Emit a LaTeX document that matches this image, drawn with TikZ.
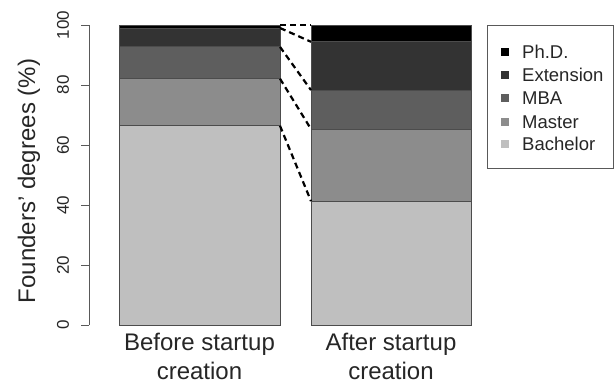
\documentclass[tikz,border=0pt]{standalone}
\usepackage{fontspec}
\setmainfont{Liberation Sans}
\usetikzlibrary{calc}

\definecolor{bachelorgray}{gray}{0.75}
\definecolor{mastergray}{gray}{0.55}
\definecolor{mbagray}{gray}{0.37}
\definecolor{extgray}{gray}{0.2}
\definecolor{phdgray}{gray}{0}

\tikzset{
  axisline/.style={draw=black!65, line width=0.9pt},
  barseg/.style={draw=black!70, line width=0.8pt},
  shiftline/.style={draw=black, line width=2.2pt, dash pattern=on 6pt off 4pt},
  ticklabel/.style={text=black!85, font=\fontsize{17}{20}\selectfont, inner sep=0pt},
  biglabel/.style={text=black!85, font=\fontsize{24}{29}\selectfont, inner sep=0pt, align=center},
  legendtext/.style={text=black!85, font=\fontsize{18.5}{22}\selectfont, anchor=west, inner sep=0pt},
}

\begin{document}
\begin{tikzpicture}[x=1pt,y=1pt]
		\useasboundingbox (0,0) rectangle (616,383);
		
		%%%%% AXIS %%%%%
		\draw[axisline] (89,58) -- (89,358);
		\foreach \v in {0,20,...,100} {
			\draw[axisline] (89,{58+3*\v}) -- (81,{58+3*\v});
			\node[ticklabel, rotate=90] (tick-\v) at (63,{58+3*\v}) {\v};
		}
		\node[biglabel, rotate=90] (ylab) at (29,202) {Founders' degrees (\%)};
		
		%%%%% BARS %%%%%
		% before startup creation
		\foreach \lo/\hi/\col [count=\i] in {0/66.4/bachelorgray, 66.4/82.1/mastergray, 82.1/92.7/mbagray, 92.7/99/extgray, 99/100/phdgray} {
			\draw[barseg, fill=\col] (119,{58+3*\lo}) rectangle (280,{58+3*\hi});
			\coordinate (before-\i) at (280,{58+3*\hi});
		}
		% after startup creation
		\foreach \lo/\hi/\col [count=\i] in {0/41.3/bachelorgray, 41.3/65.3/mastergray, 65.3/78.3/mbagray, 78.3/94.4/extgray, 94.4/100/phdgray} {
			\draw[barseg, fill=\col] (311,{58+3*\lo}) rectangle (471,{58+3*\hi});
			\coordinate (after-\i) at (311,{58+3*\hi});
		}
		
		\foreach \i in {1,...,5} {
			\draw[shiftline] (before-\i) -- (after-\i);
		}
		
		\node[biglabel] (beforelab) at (199.5,27) {Before startup\\creation};
		\node[biglabel] (afterlab) at (391,27) {After startup\\creation};
		
		%%%%% LEGEND %%%%%
		\draw[draw=black!65, line width=0.9pt] (487,215) rectangle (613,358);
		\foreach \name/\col/\y [count=\i] in {Ph.D./phdgray/331, Extension/extgray/308, MBA/mbagray/285, Master/mastergray/261, Bachelor/bachelorgray/239} {
			\fill[\col] (501,{\y-3.75}) rectangle (508.5,{\y+3.75});
			\node[legendtext] (leg-\i) at (522,\y) {\name};
		}
		
\end{tikzpicture}
\end{document}
